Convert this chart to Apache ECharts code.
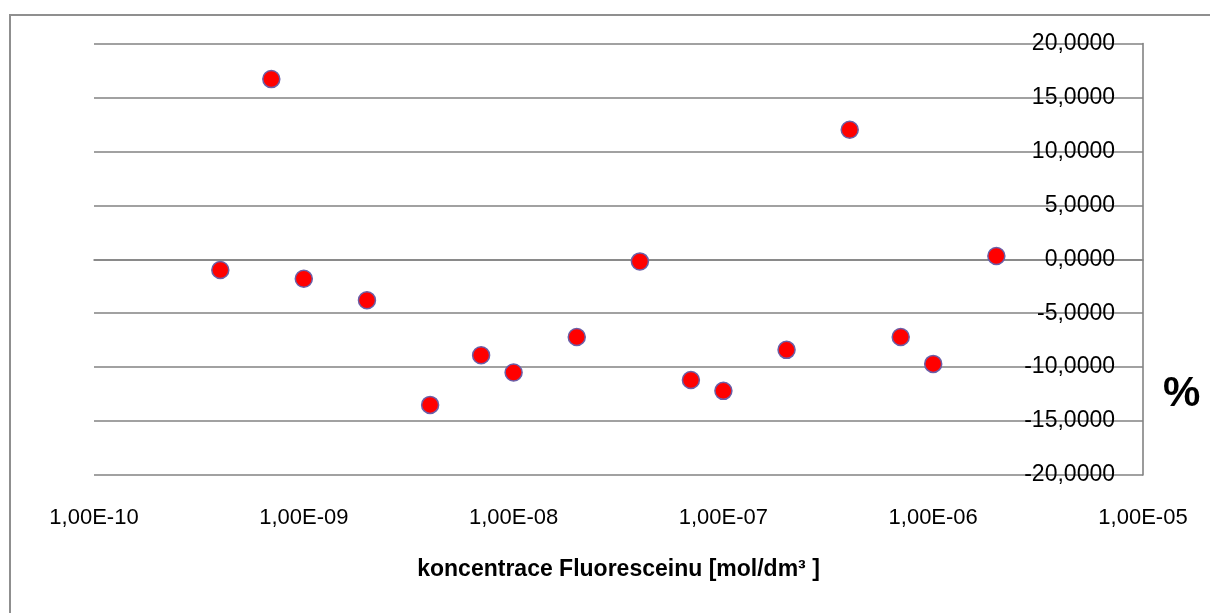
<!DOCTYPE html>
<html>
<head>
<meta charset="utf-8">
<script src="https://cdn.jsdelivr.net/npm/echarts@6/dist/echarts.min.js"></script>
<style>
html,body{margin:0;padding:0;background:#fff;}
#chart{width:1210px;height:613px;}
</style>
</head>
<body>
<div id="chart"></div>
<script>
// concentration of fluorescein [mol/dm3]
const concentrations = [4e-10, 7e-10, 1e-9, 2e-9, 4e-9, 7e-9, 1e-8, 2e-8, 4e-8, 7e-8, 1e-7, 2e-7, 4e-7, 7e-7, 1e-6, 2e-6];
// deviation [%]
const deviations = [-1.0, 16.7, -1.8, -3.8, -13.5, -8.9, -10.5, -7.2, -0.2, -11.2, -12.2, -8.4, 12.0, -7.2, -9.7, 0.3];
const xTickLabels = ['1,00E-10', '1,00E-09', '1,00E-08', '1,00E-07', '1,00E-06', '1,00E-05'];
const xTickExponents = [-10, -9, -8, -7, -6, -5];
const xTitle = 'koncentrace Fluoresceinu [mol/dm³ ]';
const yTitle = '%';

const points = concentrations.map((c, i) => [c, deviations[i]]);

const chart = echarts.init(document.getElementById('chart'), null, {renderer: 'canvas'});
chart.setOption({
  animation: false,
  backgroundColor: '#ffffff',
  title: {
    text: yTitle,
    left: 1158,
    top: 368,
    textStyle: {fontFamily: 'Liberation Sans', fontWeight: 'bold', fontSize: 42, color: '#000'}
  },
  graphic: [{
    type: 'rect',
    shape: {x: 10, y: 15, width: 1300, height: 700},
    style: {fill: 'none', stroke: '#8f8f8f', lineWidth: 2},
    silent: true
  }],
  grid: {left: 94, right: 67, top: 43.5, bottom: 138, containLabel: false},
  xAxis: {
    type: 'log',
    logBase: 10,
    min: 1e-10,
    max: 1e-5,
    splitNumber: 5,
    name: xTitle,
    nameLocation: 'middle',
    nameGap: 83,
    nameTextStyle: {fontFamily: 'Liberation Sans', fontWeight: 'bold', fontSize: 23, color: '#000'},
    axisLine: {show: true, lineStyle: {color: '#828282', width: 1.6}},
    axisTick: {show: false},
    splitLine: {show: false},
    axisLabel: {
      margin: 32,
      fontFamily: 'Liberation Sans',
      fontSize: 22,
      color: '#000',
      formatter: function (v) {
        const e = Math.round(Math.log10(v));
        const idx = xTickExponents.indexOf(e);
        return idx >= 0 ? xTickLabels[idx] : '';
      }
    }
  },
  yAxis: {
    type: 'value',
    position: 'right',
    min: -20,
    max: 20,
    interval: 5,
    axisLine: {show: true, lineStyle: {color: '#828282', width: 1.6}},
    axisTick: {show: false},
    splitLine: {show: true, lineStyle: {color: '#828282', width: 1.6}},
    axisLabel: {
      inside: true,
      margin: 28,
      fontFamily: 'Liberation Sans',
      fontSize: 23,
      color: '#000',
      formatter: function (v) { return v.toFixed(4).replace('.', ','); }
    }
  },
  series: [{
    type: 'scatter',
    data: points,
    symbol: 'circle',
    symbolSize: 17,
    itemStyle: {color: '#ff0000', borderColor: '#6a5fa8', borderWidth: 1.5, opacity: 1}
  }]
});
</script>
</body>
</html>
